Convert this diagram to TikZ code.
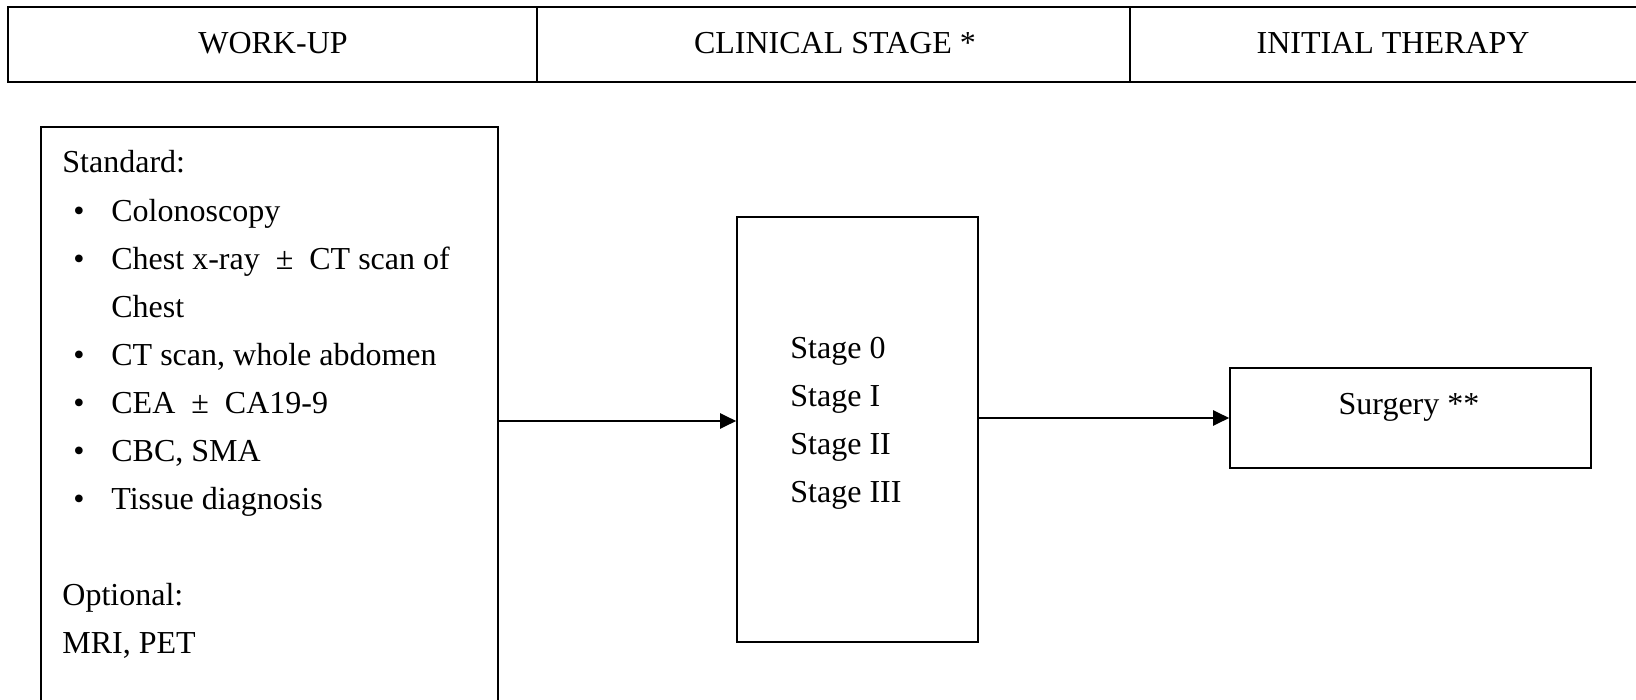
\documentclass[tikz,border=0pt]{standalone}
\usepackage{fontspec}
\setmainfont{Liberation Serif}
\usetikzlibrary{arrows.meta,fit}
\begin{document}
\begin{tikzpicture}[x=0.5pt,y=-0.5pt,
  frame/.style={draw=black, line width=0.8pt, inner sep=0pt},
  txt/.style={anchor=base west, inner sep=0pt, font=\fontsize{16pt}{24pt}\selectfont},
  ctxt/.style={anchor=base, inner sep=0pt, font=\fontsize{16pt}{24pt}\selectfont},
  bul/.style={anchor=base, inner sep=0pt, font=\fontsize{16pt}{24pt}\selectfont},
  conn/.style={line width=1pt, -{Triangle[length=8pt,width=7.5pt]}}]
\useasboundingbox (0,0) rectangle (1636,700);
% header
\node[frame, fit={(8,7) (537,82)}] (h1) {};
\node[frame, fit={(537,7) (1130,82)}] (h2) {};
\node[frame, fit={(1130,7) (1656,82)}] (h3) {};
\node[ctxt] (h1t) at (273,54) {WORK-UP};
\node[ctxt] (h2t) at (835,54) {CLINICAL STAGE *};
\node[ctxt] (h3t) at (1393,54) {INITIAL THERAPY};
% work-up box
\node[frame, fit={(41,127) (498,730)}] (workup) {};
\node[txt] (std) at (62,173) {Standard:};
\node[bul] (b1) at (79,221) {•};
\node[txt] (i1) at (111,221) {Colonoscopy};
\node[bul] (b2) at (79,269) {•};
\node[txt] (i2) at (111,269) {Chest x-ray\enspace±\enspace CT scan of};
\node[txt] (i2b) at (111,317) {Chest};
\node[bul] (b3) at (79,365) {•};
\node[txt] (i3) at (111,365) {CT scan, whole abdomen};
\node[bul] (b4) at (79,413) {•};
\node[txt] (i4) at (111,413) {CEA\enspace±\enspace CA19-9};
\node[bul] (b5) at (79,461) {•};
\node[txt] (i5) at (111,461) {CBC, SMA};
\node[bul] (b6) at (79,509) {•};
\node[txt] (i6) at (111,509) {Tissue diagnosis};
\node[txt] (opt) at (62,605) {Optional:};
\node[txt] (opt2) at (62,653) {MRI, PET};
% stage box
\node[frame, fit={(737,217) (978,642)}] (stage) {};
\node[txt] (s0) at (790,358) {Stage 0};
\node[txt] (s1) at (790,406) {Stage I};
\node[txt] (s2) at (790,454) {Stage II};
\node[txt] (s3) at (790,502) {Stage III};
% surgery box
\node[frame, fit={(1230,368) (1591,468)}] (surgery) {};
\node[ctxt] (surgt) at (1409,414) {Surgery **};
% connectors
\coordinate (a1) at (0,421);
\draw[conn] (workup.east |- a1) -- (stage.west |- a1);
\draw[conn] (stage.east |- surgery.west) -- (surgery.west);
\end{tikzpicture}
\end{document}
